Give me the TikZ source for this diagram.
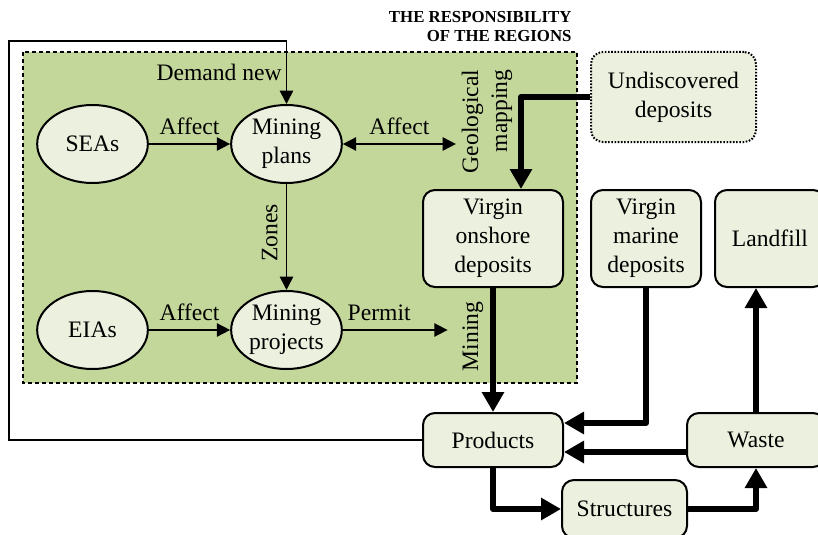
\documentclass[tikz,border=0pt]{standalone}
\usepackage{fontspec}
\setmainfont{Liberation Serif}
\usetikzlibrary{shapes.geometric,arrows.meta,calc}

\definecolor{regiongreen}{RGB}{196,215,155}
\definecolor{boxfill}{RGB}{235,241,222}
\newcommand{\diagfont}{\fontsize{17.7}{21.75}\selectfont}
\newcommand{\headfont}{\fontsize{12.6}{14.25}\selectfont\bfseries}

\tikzset{every picture/.style={line width=0.75pt}}
\tikzset{
flowtip/.tip={Triangle[length=10pt,width=10pt]},
bigtip/.tip={Triangle[length=15pt,width=16pt]},
oval/.style={ellipse, draw, line width=1.5pt, fill=boxfill, minimum width=83pt, minimum height=58.5pt, inner sep=0pt, align=center, font=\diagfont},
store/.style={draw, line width=1.5pt, fill=boxfill, rounded corners=9pt, align=center, font=\diagfont, minimum height=72.75pt},
flowbox/.style={draw, line width=1.5pt, fill=boxfill, rounded corners=9pt, font=\diagfont, minimum height=40.5pt},
lbl/.style={font=\diagfont, inner sep=3pt},
thin flow/.style={line width=1.2pt, -flowtip},
thick flow/.style={line width=4.5pt, line join=round, -bigtip}
}

\begin{document}
\begin{tikzpicture}[x=0.75pt,y=0.75pt,yscale=-1,xscale=1]
\useasboundingbox (0,0) rectangle (818,535);
\clip (0,0) rectangle (818,535);

%Shape: Rectangle [regions]
\draw [fill=regiongreen, line width=0.9pt, dash pattern=on 3pt off 2.25pt] (23,52) rectangle (577,383);

% Text Node
\node [anchor=east, align=right, font=\headfont, inner sep=0pt] (title) at (572,26.5) {THE RESPONSIBILITY\\OF THE REGIONS};

%Shape: Ellipse
\node [oval] (seas) at (92.5,144) {SEAs};
\node [oval] (plans) at (286.5,144) {Mining\\plans};
\node [oval] (eias) at (92.5,330) {EIAs};
\node [oval] (projects) at (286.5,330) {Mining\\projects};

%Shape: Rounded rectangle
\node [store, dash pattern=on 1.2pt off 1.2pt, minimum width=123.75pt, minimum height=67.5pt] (undisc) at (673.5,97) {Undiscovered\\deposits};
\node [store, minimum width=105pt] (onshore) at (493,238.5) {Virgin\\onshore\\deposits};
\node [store, minimum width=82.5pt] (marine) at (646,238.5) {Virgin\\marine\\deposits};
\node [store, minimum width=82.5pt] (landfill) at (770,238.5) {Landfill};
\node [flowbox, minimum width=105pt] (products) at (493,440) {Products};
\node [flowbox, minimum width=103.5pt] (waste) at (756,440) {Waste};
\node [flowbox, minimum width=93.75pt, minimum height=43.5pt] (structures) at (624.5,509) {Structures};

% Text Node
\node [lbl, rotate=90, align=right, inner sep=4pt] (geo) at (487,121.5) {Geological\\mapping};

%Straight Lines
\coordinate (loop) at (9,41);
\draw [thin flow] (products.west) -| (loop) -| (plans.north) node [lbl, pos=0.75, anchor=east] {Demand new};
\draw [thin flow] (seas) -- (plans) node [lbl, midway, anchor=south, inner sep=6pt] {Affect};
\draw [thin flow, flowtip-flowtip] (plans.east) -- (plans.east -| geo.north) node [lbl, midway, anchor=south, inner sep=6pt] {Affect};
\draw [thin flow] (plans) -- (projects) node [lbl, pos=0.46, rotate=90, anchor=south, inner sep=6pt] {Zones};
\draw [thin flow] (eias) -- (projects) node [lbl, midway, anchor=south, inner sep=6pt] {Affect};

%Thick Lines
\draw [thick flow] (onshore) -- (products) node [lbl, pos=0.39, rotate=90, anchor=south, inner sep=5pt] (mininglbl) {Mining};
\draw [thin flow, shorten >=4pt] (projects.east) -- (projects.east -| mininglbl.north) node [lbl, pos=0.33, anchor=south, inner sep=6pt] {Permit};
\draw [thick flow] (undisc.west) -| ([xshift=21pt]onshore.north);
\draw [thick flow] (marine.south) |- ($(products.east)+(0,-17)$);
\draw [thick flow] ($(waste.west)+(0,12)$) -- ($(products.east)+(0,12)$);
\draw [thick flow] (products.south) |- (structures.west);
\draw [thick flow] (structures.east) -| (waste.south);
\draw [thick flow] (waste.north) -- (waste.north |- landfill.south);

\end{tikzpicture}
\end{document}
